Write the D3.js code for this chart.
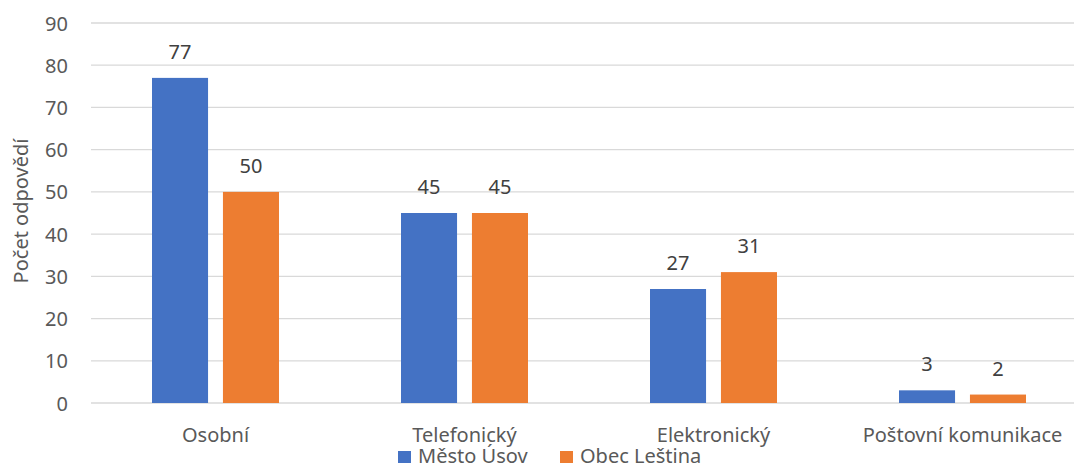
<!DOCTYPE html>
<html><head><meta charset="utf-8">
<script src="https://cdn.jsdelivr.net/npm/d3@7"></script>
<style>body{margin:0;background:#fff}svg{display:block}text{font-family:"Noto Sans","Open Sans",sans-serif}</style>
</head><body>
<svg id="c" width="1074" height="466"></svg>
<script>
const categories = ["Osobní", "Telefonický", "Elektronický", "Poštovní komunikace"];
const seriesNames = ["Město Úsov", "Obec Leština"];
const mestoUsov = [77, 45, 27, 3];
const obecLestina = [50, 45, 31, 2];
const yTicks = [0, 10, 20, 30, 40, 50, 60, 70, 80, 90];
const colors = ["#4472C4", "#ED7D31"];
const FS = "20px";

const svg = d3.select("#c");
const x = d3.scaleBand().domain(categories).range([91, 1087]).paddingInner(0.49).paddingOuter(0.245);
const xs = d3.scaleBand().domain(seriesNames).range([0, x.bandwidth()]).paddingInner(0.21).paddingOuter(0);
const y = d3.scaleLinear().domain([0, 90]).range([403, 23]);

svg.append("g").selectAll("line").data(yTicks).join("line")
  .attr("x1", 91).attr("x2", 1087)
  .attr("y1", d => y(d)).attr("y2", d => y(d))
  .attr("stroke", "#D9D9D9").attr("stroke-width", 1.3);

const yAxis = d3.axisLeft(y).tickValues(yTicks).tickSize(0).tickPadding(0);
const gy = svg.append("g").attr("transform", "translate(68,0)").call(yAxis);
gy.select(".domain").remove();
gy.selectAll("text").attr("fill", "#595959").style("font-size", FS).style("font-family", '"Noto Sans",sans-serif').attr("dy", "0.35em");

const xAxis = d3.axisBottom(x).tickSize(0).tickPadding(0);
const gx = svg.append("g").attr("transform", "translate(0,442)").call(xAxis);
gx.select(".domain").remove();
gx.selectAll("text").attr("fill", "#595959").style("font-size", FS).style("font-family", '"Noto Sans",sans-serif').attr("y", 0).attr("dy", 0);

const data = categories.map((c, i) => ({cat: c, vals: [mestoUsov[i], obecLestina[i]]}));
const groups = svg.append("g").selectAll("g").data(data).join("g")
  .attr("transform", d => `translate(${x(d.cat)},0)`);
groups.selectAll("rect").data(d => d.vals.map((v, j) => ({s: seriesNames[j], v, j}))).join("rect")
  .attr("x", d => xs(d.s)).attr("width", xs.bandwidth())
  .attr("y", d => y(d.v)).attr("height", d => y(0) - y(d.v))
  .attr("fill", d => colors[d.j]);
groups.selectAll("text").data(d => d.vals.map((v, j) => ({s: seriesNames[j], v, j}))).join("text")
  .attr("x", d => xs(d.s) + xs.bandwidth() / 2).attr("y", d => y(d.v) - 19)
  .attr("text-anchor", "middle").attr("fill", "#404040").style("font-size", FS)
  .text(d => d.v);

svg.append("text").attr("transform", "translate(28,211) rotate(-90)")
  .attr("text-anchor", "middle").attr("fill", "#595959").style("font-size", FS)
  .text("Počet odpovědí");

const legX = [398, 560];
const leg = svg.append("g").selectAll("g").data(seriesNames).join("g")
  .attr("transform", (d, i) => `translate(${legX[i]},451)`);
leg.append("rect").attr("width", 13).attr("height", 12).attr("fill", (d, i) => colors[i]);
leg.append("text").attr("x", 20).attr("y", 11.5).attr("fill", "#595959").style("font-size", FS).text(d => d);
</script>
</body></html>
